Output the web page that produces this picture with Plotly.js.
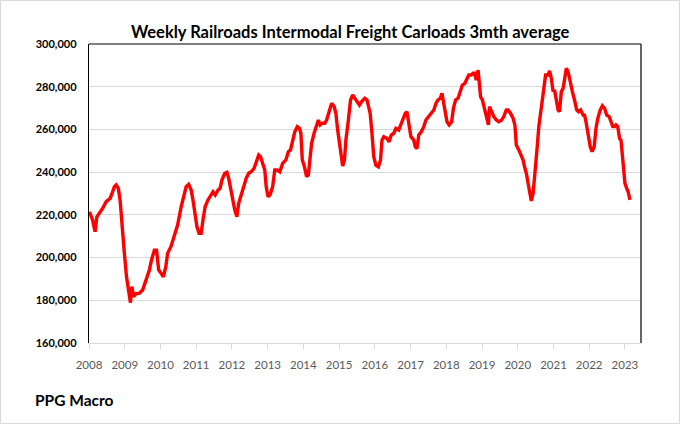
<!DOCTYPE html>
<html>
<head>
<meta charset="utf-8">
<script src="https://cdn.plot.ly/plotly-3.0.1.min.js"></script>
<style>html,body{margin:0;padding:0;background:#fff;}#chart{width:680px;height:424px;}</style>
</head>
<body>
<div id="chart"></div>
<script>
const chartTitle = "Weekly Railroads Intermodal Freight Carloads 3mth average";
const sourceLabel = "PPG Macro";
const yearTicks = [2008,2009,2010,2011,2012,2013,2014,2015,2016,2017,2018,2019,2020,2021,2022,2023];
const yTicks = [160000,180000,200000,220000,240000,260000,280000,300000];

const years = [
2008.00,2008.03,2008.10,2008.17,2008.22,2008.29,2008.38,2008.48,2008.59,2008.64,2008.71,2008.76,2008.82,2008.87,2008.92,2008.99,
2009.05,2009.11,2009.16,2009.20,2009.25,2009.31,2009.41,2009.50,2009.60,2009.69,2009.75,2009.83,2009.89,2009.95,
2010.02,2010.08,2010.15,2010.20,2010.29,2010.39,2010.48,2010.58,2010.66,2010.72,2010.79,2010.86,2010.91,2010.96,
2011.02,2011.08,2011.14,2011.19,2011.25,2011.33,2011.42,2011.47,2011.53,2011.61,2011.67,2011.72,2011.80,2011.86,2011.91,2011.95,
2012.00,2012.08,2012.14,2012.19,2012.26,2012.34,2012.40,2012.47,2012.54,2012.62,2012.68,2012.75,2012.80,2012.85,2012.92,2012.96,
2013.01,2013.07,2013.14,2013.20,2013.27,2013.34,2013.42,2013.51,2013.58,2013.64,2013.70,2013.76,2013.83,2013.89,2013.93,2013.97,
2014.03,2014.09,2014.14,2014.18,2014.23,2014.30,2014.37,2014.42,2014.47,2014.53,2014.60,2014.65,2014.72,2014.79,2014.86,2014.91,2014.96,
2015.00,2015.05,2015.10,2015.15,2015.19,2015.26,2015.32,2015.38,2015.44,2015.51,2015.57,2015.63,2015.72,2015.78,2015.83,2015.87,2015.92,2015.97,
2016.03,2016.10,2016.16,2016.20,2016.25,2016.34,2016.40,2016.46,2016.53,2016.59,2016.67,2016.74,2016.81,2016.85,2016.90,2016.95,
2017.01,2017.09,2017.13,2017.18,2017.23,2017.30,2017.37,2017.43,2017.51,2017.58,2017.65,2017.71,2017.77,2017.83,2017.88,2017.92,2017.97,
2018.02,2018.08,2018.15,2018.20,2018.26,2018.33,2018.40,2018.45,2018.52,2018.57,2018.63,2018.70,2018.75,2018.79,2018.84,2018.89,2018.92,2018.96,
2019.01,2019.05,2019.10,2019.15,2019.18,2019.21,2019.27,2019.33,2019.40,2019.47,2019.55,2019.61,2019.68,2019.73,2019.80,2019.87,2019.92,2019.96,
2020.03,2020.10,2020.15,2020.19,2020.24,2020.29,2020.33,2020.38,2020.43,2020.47,2020.53,2020.59,2020.66,2020.73,2020.78,2020.85,2020.89,2020.94,2020.99,
2021.03,2021.08,2021.13,2021.17,2021.22,2021.27,2021.32,2021.36,2021.41,2021.46,2021.53,2021.60,2021.65,2021.70,2021.76,2021.83,2021.87,2021.91,2021.97,
2022.03,2022.08,2022.14,2022.19,2022.24,2022.31,2022.37,2022.43,2022.49,2022.56,2022.61,2022.66,2022.71,2022.75,2022.80,2022.85,2022.89,2022.92,2022.96,
2023.00,2023.05,2023.09,2023.14
];

const carloads = [
220500,220700,217600,212100,219100,220700,223000,226200,227700,229800,233200,234000,232400,227000,214500,202000,
191000,184000,178900,186400,181700,183000,183300,184800,189500,194200,198900,203500,203500,194200,
192600,191000,195700,202000,205000,209800,215200,223800,228500,233200,234300,231600,227000,220700,
214500,211400,211400,217600,223800,227000,229300,230800,229300,231600,232400,236300,239500,239900,237100,233200,
228500,222300,219100,225400,229300,234000,237100,239500,240200,241800,244900,248000,247200,244100,241000,233200,
228500,229500,233200,241000,241000,240200,244100,245700,249600,250400,255000,258900,261300,260500,258200,245700,
242500,237900,238700,244100,253500,258200,262100,264400,262100,262900,262900,264400,268300,272200,270700,267500,259700,
255000,247200,242900,245700,255000,264400,273800,276100,274600,272200,271400,273000,274600,273800,269900,267500,258200,247200,
243300,242500,245700,255000,256600,255800,254200,257400,258200,260500,259700,262900,266000,267500,268300,262900,
256600,255000,251900,251100,257400,258900,261300,264400,266000,267500,269100,272200,273800,274600,276900,273000,269100,
263600,262100,263600,270000,273800,274600,277700,280800,281600,283100,285500,285500,286300,286300,283100,287800,283100,275300,
273800,270700,268300,264400,262100,270700,268300,266000,264400,263600,264400,266000,269100,269100,267500,265200,262100,252700,
250400,248000,245700,242500,239500,234800,230100,226500,230100,239500,248800,261300,270700,280000,285500,285500,287400,283900,277700,
278500,274600,269100,268300,277700,279200,283900,288600,287000,282400,277700,273000,269100,268300,269100,266700,266700,263600,257400,
251900,249600,251900,260500,265200,269100,271100,269900,266700,266000,263600,261300,261300,262100,261300,255800,255000,248000,240200,
234800,232400,230800,227000
];

const W = 680, H = 424;
const m = {l: 89, r: 39, t: 44, b: 81};
const pw = W - m.l - m.r, ph = H - m.t - m.b;
const fontFam = 'Lato, "Open Sans", sans-serif';

const trace = {
  x: years, y: carloads, type: 'scatter', mode: 'lines',
  line: {color: '#ff0000', width: 3.4, shape: 'linear'},
  hoverinfo: 'skip'
};

const layout = {
  width: W, height: H,
  margin: m,
  paper_bgcolor: '#ffffff', plot_bgcolor: '#ffffff',
  showlegend: false,
  font: {family: fontFam, color: '#000'},
  title: {
    text: '<b>' + chartTitle + '</b>',
    font: {family: fontFam, size: 16.5, color: '#000'},
    x: 0.515, xanchor: 'center', y: 1 - 32/H, yanchor: 'middle'
  },
  xaxis: {
    range: [2008, 2023.45],
    tickmode: 'array', tickvals: yearTicks, ticktext: yearTicks.map(String),
    showgrid: false, zeroline: false,
    showline: true, linecolor: '#d9d9d9', linewidth: 1,
    ticks: 'outside', ticklen: 5, tickcolor: '#d9d9d9', tickwidth: 1,
    tickfont: {size: 11.5, color: '#595959', family: fontFam},
    ticklabelstandoff: 6,
    fixedrange: true
  },
  yaxis: {
    range: [160000, 300000],
    tickmode: 'array', tickvals: yTicks,
    ticktext: yTicks.map(v => '<b>' + v.toLocaleString('en-US') + '</b>'),
    showgrid: true, gridcolor: '#d9d9d9', gridwidth: 1,
    zeroline: false,
    showline: true, linecolor: '#000000', linewidth: 1.2,
    ticks: '',
    tickfont: {size: 11, color: '#000', family: fontFam},
    ticklabelstandoff: 9,
    fixedrange: true
  },
  shapes: [
    {type: 'line', xref: 'paper', yref: 'paper', x0: 0, x1: 1, y0: 1, y1: 1, line: {color: '#000', width: 1.2}},
    {type: 'line', xref: 'paper', yref: 'paper', x0: 1, x1: 1, y0: 0, y1: 1, line: {color: '#333', width: 1.5}},
    {type: 'rect', xref: 'paper', yref: 'paper',
      x0: -(m.l - 0.5)/pw, x1: 1 + (m.r - 0.5)/pw, y0: -(m.b - 0.5)/ph, y1: 1 + (m.t - 0.5)/ph,
      line: {color: '#d9d9d9', width: 1}}
  ],
  annotations: [
    {text: '<b>' + sourceLabel + '</b>', xref: 'paper', yref: 'paper',
      x: -(m.l - 33)/pw, y: -(400 - (H - m.b))/ph, xanchor: 'left', yanchor: 'middle',
      showarrow: false, font: {size: 15.5, color: '#000', family: fontFam}}
  ]
};

Plotly.newPlot('chart', [trace], layout, {staticPlot: true, displayModeBar: false});
</script>
</body>
</html>
